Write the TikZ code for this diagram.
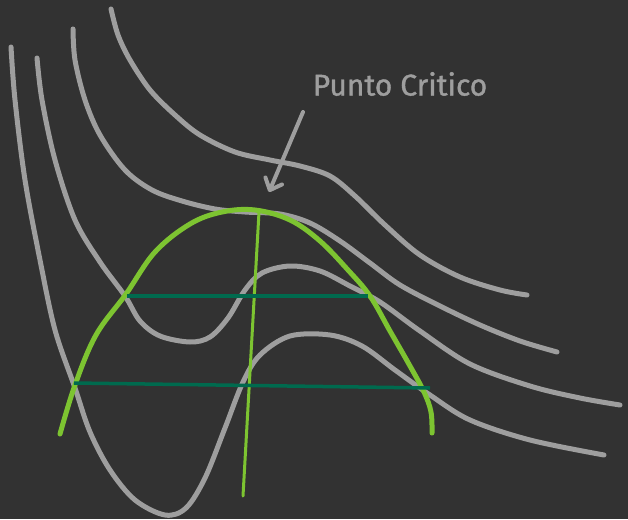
\documentclass[tikz,border=0pt]{standalone}
\usepackage{fontspec}
\setmainfont{Fira Sans}
\newfontfamily\notefont[FakeBold=1.2]{Fira Sans}
\usetikzlibrary{arrows.meta,positioning}
\definecolor{board}{HTML}{323232}
\definecolor{chalk}{HTML}{9E9E9E}
\definecolor{dome}{HTML}{7DC431}
\definecolor{tie}{HTML}{006A4E}

\begin{document}
\begin{tikzpicture}[
  x=1pt,y=-1pt,
  isotherm/.style={draw=chalk,line width=5pt,line cap=round,line join=round},
  domeline/.style={draw=dome,line width=5pt,line cap=round},
  tieline/.style={draw=tie,line width=3.5pt},
  pointer/.style={draw=chalk,line width=4pt,line cap=round,
    -{Straight Barb[length=10pt,width=18pt,line width=4pt,round]}},
  note/.style={text=chalk,font=\notefont\fontsize{30}{34}\selectfont}
]
\fill[board] (0,0) rectangle (628,519);
\useasboundingbox (0,0) rectangle (628,519);

% isotherms
\draw[isotherm] plot[smooth,tension=0.55] coordinates {(111,9) (118,35) (130,60) (150,90)
  (175,115) (200,135) (235,152) (270,160) (300,166) (330,176) (355,196) (385,225)
  (420,255) (460,277) (500,290) (527,295)};
\draw[isotherm] plot[smooth,tension=0.55] coordinates {(73,29) (75,60) (85,100) (100,135)
  (125,170) (152,190) (182,201) (215,209) (245,212) (280,214) (310,223) (340,241)
  (370,263) (400,285) (440,306) (480,325) (520,341) (557,352)};
\draw[isotherm] plot[smooth,tension=0.55] coordinates {(37,58) (42,100) (55,160) (75,220)
  (100,262) (125,296) (140,321) (160,336) (190,342) (210,337) (228,318) (245,290)
  (262,273) (290,266) (320,271) (350,286) (380,302) (420,331) (470,364) (530,386)
  (580,398) (620,405)};
\draw[isotherm] plot[smooth,tension=0.55] coordinates {(11,47) (15,100) (25,180) (40,260)
  (55,330) (75,388) (90,432) (110,470) (135,500) (165,515) (186,508) (205,478)
  (225,428) (243,382) (260,355) (290,336) (330,335) (362,346) (395,370) (430,395)
  (470,420) (530,440) (604,455)};

% dome and tie lines
\draw[domeline] plot[smooth,tension=0.6] coordinates {(60,434) (75,385) (96,335) (126,294)
  (155,252) (190,224) (222,212) (255,210) (290,220) (320,241) (348,270) (370,296)
  (390,331) (410,366) (424,392) (431,412) (432,433)};
\draw[domeline,line width=3pt] (259,212) -- (243,496);
\coordinate (liqhi) at (127,296);
\coordinate (vaphi) at (368,296);
\coordinate (liqlo) at (74,383);
\coordinate (vaplo) at (430,388);
\draw[tieline] (liqhi) -- (vaphi);
\draw[tieline] (liqlo) -- (vaplo);

% label
\node[note] (label) at (400,84) {Punto Critico};
\coordinate (tail) at (303,112);
\coordinate (crit) at (269,192);
\draw[pointer] (tail) -- (crit);
\end{tikzpicture}
\end{document}
